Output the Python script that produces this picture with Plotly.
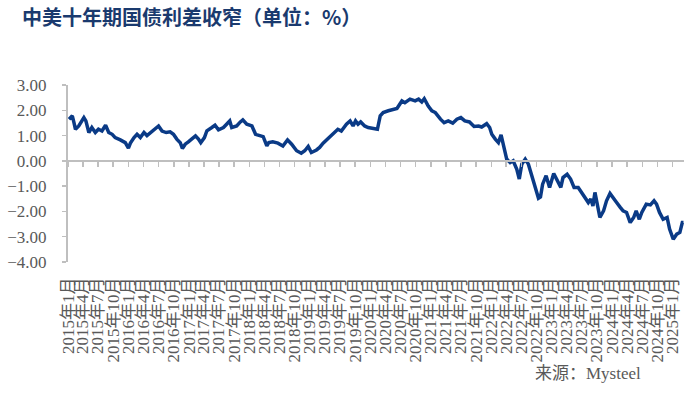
import plotly.graph_objects as go

# ---- data ----
dates = [
    "2015-01-07", "2015-01-27", "2015-02-06", "2015-02-15", "2015-03-07", "2015-04-07", "2015-04-19",
    "2015-05-07", "2015-05-25", "2015-06-15", "2015-07-04", "2015-07-25", "2015-08-16", "2015-09-04",
    "2015-09-25", "2015-10-13", "2015-11-13", "2015-12-13", "2016-01-01", "2016-01-13", "2016-02-04",
    "2016-02-22", "2016-03-13", "2016-04-04", "2016-04-22", "2016-05-13", "2016-06-04", "2016-07-01",
    "2016-07-22", "2016-08-16", "2016-09-09", "2016-09-29", "2016-10-19", "2016-11-09", "2016-11-22",
    "2016-12-09", "2016-12-28", "2017-01-19", "2017-02-09", "2017-02-27", "2017-03-13", "2017-04-04",
    "2017-04-19", "2017-05-19", "2017-06-07", "2017-06-28", "2017-07-28", "2017-08-16", "2017-09-04",
    "2017-09-16", "2017-10-16", "2017-11-07", "2017-11-22", "2017-12-16", "2018-01-16", "2018-02-07",
    "2018-03-07", "2018-03-25", "2018-04-16", "2018-04-28", "2018-05-22", "2018-06-22", "2018-07-22",
    "2018-08-19", "2018-09-13", "2018-10-13", "2018-11-10", "2018-12-01", "2018-12-22", "2019-01-10",
    "2019-02-10", "2019-03-01", "2019-03-22", "2019-04-19", "2019-05-10", "2019-06-01", "2019-06-19",
    "2019-07-10", "2019-08-10", "2019-09-01", "2019-09-19", "2019-10-04", "2019-10-19", "2019-11-04",
    "2019-11-28", "2019-12-19", "2020-01-13", "2020-02-01", "2020-02-13", "2020-03-01", "2020-03-19",
    "2020-04-19", "2020-05-10", "2020-06-10", "2020-07-10", "2020-07-28", "2020-08-28", "2020-09-28",
    "2020-10-19", "2020-11-07", "2020-11-22", "2020-12-16", "2021-01-07", "2021-01-28", "2021-02-28",
    "2021-03-22", "2021-04-16", "2021-05-13", "2021-06-07", "2021-07-01", "2021-07-25", "2021-08-22",
    "2021-09-19", "2021-10-16", "2021-11-04", "2021-12-04", "2021-12-22", "2022-01-04", "2022-01-25",
    "2022-02-13", "2022-03-01", "2022-03-13", "2022-04-04", "2022-04-25", "2022-05-13", "2022-06-04",
    "2022-06-19", "2022-07-04", "2022-07-25", "2022-08-13", "2022-09-04", "2022-09-22", "2022-10-13",
    "2022-10-25", "2022-11-07", "2022-11-28", "2022-12-19", "2023-01-13", "2023-02-04", "2023-02-25",
    "2023-03-10", "2023-04-04", "2023-04-25", "2023-05-16", "2023-06-10", "2023-07-01", "2023-07-19",
    "2023-08-10", "2023-08-25", "2023-09-07", "2023-09-19", "2023-10-04", "2023-10-19", "2023-11-10",
    "2023-11-28", "2023-12-19", "2024-01-10", "2024-01-28", "2024-02-19", "2024-03-07", "2024-03-28",
    "2024-04-19", "2024-05-10", "2024-05-25", "2024-06-13", "2024-06-28", "2024-07-25", "2024-08-19",
    "2024-09-10", "2024-09-25", "2024-10-13", "2024-11-04", "2024-11-28", "2024-12-13", "2025-01-04",
    "2025-01-25", "2025-02-13", "2025-02-28", "2025-03-07",
]
spread = [
    1.65, 1.78, 1.51, 1.25, 1.38, 1.71, 1.58,
    1.12, 1.32, 1.12, 1.25, 1.18, 1.41, 1.12,
    1.05, 0.92, 0.83, 0.72, 0.50, 0.70, 0.92,
    1.05, 0.92, 1.12, 1.00, 1.12, 1.25, 1.38,
    1.18, 1.12, 1.15, 1.05, 0.86, 0.72, 0.49,
    0.66, 0.75, 0.86, 0.99, 0.86, 0.72, 0.92,
    1.19, 1.32, 1.41, 1.23, 1.32, 1.45, 1.58,
    1.32, 1.38, 1.54, 1.62, 1.45, 1.38, 1.05,
    0.99, 0.96, 0.59, 0.72, 0.75, 0.70, 0.59,
    0.83, 0.66, 0.40, 0.30, 0.40, 0.57, 0.33,
    0.43, 0.53, 0.70, 0.86, 0.99, 1.12, 1.25,
    1.18, 1.45, 1.58, 1.38, 1.58, 1.45, 1.54,
    1.38, 1.32, 1.29, 1.28, 1.25, 1.78, 1.91,
    1.98, 2.02, 2.07, 2.37, 2.30, 2.44, 2.37,
    2.44, 2.33, 2.46, 2.17, 1.98, 1.91, 1.65,
    1.51, 1.58, 1.49, 1.65, 1.71, 1.58, 1.54,
    1.36, 1.38, 1.34, 1.47, 1.32, 1.05, 0.86,
    0.72, 1.03, 0.66, 0.07, -0.07, 0.00, -0.33,
    -0.72, -0.13, 0.07, -0.13, -0.59, -0.99, -1.48,
    -1.43, -0.92, -0.59, -1.05, -0.50, -0.79, -1.05,
    -0.66, -0.53, -0.72, -1.05, -1.05, -1.25, -1.38,
    -1.65, -1.51, -1.78, -1.25, -1.71, -2.24, -1.98,
    -1.58, -1.29, -1.51, -1.65, -1.84, -1.98, -2.04,
    -2.44, -2.24, -1.98, -2.31, -2.04, -1.71, -1.74,
    -1.58, -1.71, -2.04, -2.31, -2.24, -2.70, -3.10,
    -2.90, -2.83, -2.44, -2.44,
]

tick_dates = [f"{y}-{m:02d}-01" for y in range(2015, 2026) for m in (1, 4, 7, 10)][:41]
tick_text = [f"{y}年{m}月" for y in range(2015, 2026) for m in (1, 4, 7, 10)][:41]
y_ticks = [3, 2, 1, 0, -1, -2, -3, -4]

x_range = ["2015-01-01", "2025-03-10"]
y_range = [-4, 3]

LINE = "#0a3a86"
AXIS = "#bfbfbf"
TXT = "#595959"
SERIF = "Liberation Serif, Times New Roman, Noto Sans CJK SC, serif"

fig = go.Figure()
fig.add_trace(go.Scatter(
    x=dates, y=spread, mode="lines",
    line=dict(color=LINE, width=3.5), hoverinfo="skip", showlegend=False,
))
# invisible companion trace so the label axis (bottom) is drawn
fig.add_trace(go.Scatter(
    x=dates, y=spread, mode="lines", xaxis="x2",
    line=dict(color="rgba(0,0,0,0)", width=0), hoverinfo="skip", showlegend=False,
))

zero_pos = (0 - y_range[0]) / (y_range[1] - y_range[0])

fig.update_layout(
    width=700, height=395,
    margin=dict(l=68, r=16, t=85, b=133, autoexpand=False),
    paper_bgcolor="white", plot_bgcolor="white",
    title=dict(
        text="<b>中美十年期国债利差收窄（单位：%）</b>",
        x=22 / 700, xanchor="left", xref="container",
        y=1 - 18 / 395, yanchor="middle", yref="container", automargin=False,
        font=dict(family="Noto Sans CJK SC", size=20, color="#1a3a6e"),
    ),
    xaxis=dict(
        type="date", range=x_range, anchor="free", position=zero_pos,
        showline=True, linecolor=AXIS, linewidth=2, automargin=False,
        tickmode="array", tickvals=tick_dates, showticklabels=False,
        ticks="outside", ticklen=5, tickcolor=AXIS, tickwidth=1.5,
        showgrid=False, zeroline=False,
    ),
    xaxis2=dict(
        type="date", range=x_range, overlaying="x", anchor="y", side="bottom",
        showline=False, showgrid=False, zeroline=False, automargin=False,
        tickmode="array", tickvals=tick_dates, ticktext=tick_text,
        tickangle=-90, ticks="", ticklabelstandoff=11,
        tickfont=dict(family=SERIF, size=17, color=TXT),
    ),
    yaxis=dict(
        range=y_range, tickmode="array", tickvals=y_ticks, tickformat=".2f",
        showline=True, linecolor=AXIS, linewidth=2, automargin=False,
        ticks="outside", ticklen=4, tickcolor=AXIS, tickwidth=1.5,
        ticklabelstandoff=12,
        showgrid=False, zeroline=False,
        tickfont=dict(family=SERIF, size=17, color=TXT),
    ),
    annotations=[dict(
        text="来源：Mysteel", xref="paper", yref="paper",
        x=(533 - 68) / 616, y=(262 - 373) / 177, xanchor="left", yanchor="middle",
        showarrow=False, font=dict(family=SERIF, size=17, color=TXT),
    )],
)

fig.write_html(
    "out.html",
    config={"displayModeBar": False, "staticPlot": True},
    post_script="document.body.style.margin='0';document.body.style.padding='0';",
)
